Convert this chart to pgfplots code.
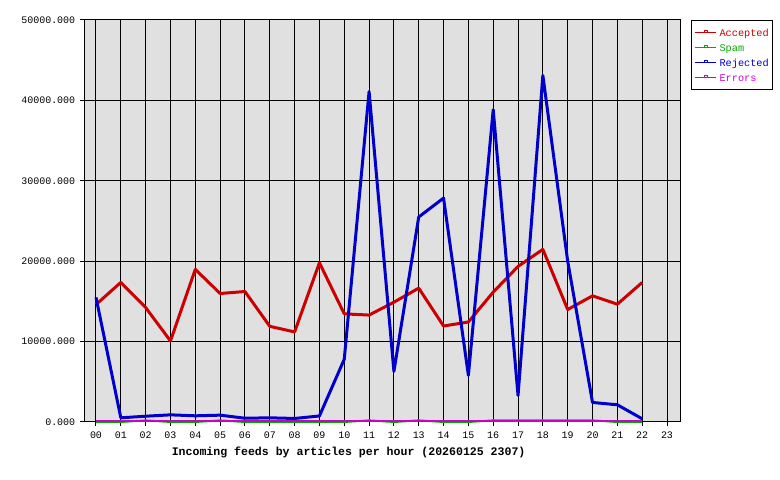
\documentclass[border=0pt]{standalone}
\usepackage{fontspec}
\setmainfont{Liberation Mono}
\usepackage{pgfplots}
\pgfplotsset{compat=1.18}
\definecolor{bg}{HTML}{E0E0E0}
\definecolor{acc}{HTML}{CC0000}
\definecolor{spm}{HTML}{00AA00}
\definecolor{rej}{HTML}{0000CC}
\definecolor{err}{HTML}{CC00CC}
\begin{document}
\begin{tikzpicture}
\useasboundingbox (0,0) rectangle (780bp,480bp);
\begin{axis}[
  at={(84bp,58bp)}, anchor=south west,
  scale only axis, width=596bp, height=402bp,
  xmin=-0.483, xmax=23.524, ymin=0, ymax=50000,
  scaled y ticks=false,
  axis background/.style={fill=bg},
  clip=false,
  axis line style={black, line width=1bp},
  grid=major,
  major grid style={black, line width=1bp},
  tick style={black, line width=1bp},
  major tick length=4bp,
  tick align=outside,
  xtick pos=bottom, ytick pos=left,
  xtick={0,...,23},
  xticklabels={00,01,02,03,04,05,06,07,08,09,10,11,12,13,14,15,16,17,18,19,20,21,22,23},
  ytick={0,10000,20000,30000,40000,50000},
  yticklabels={0.000,10000.000,20000.000,30000.000,40000.000,50000.000},
  ticklabel style={font=\fontsize{10}{12}\selectfont},
  yticklabel style={xshift=-1.3bp},
  xticklabel style={yshift=-2.2bp},
  xlabel={\bfseries Incoming feeds by articles per hour (20260125 2307)},
  xlabel style={at={(axis description cs:0.444,0)}, anchor=base, yshift=-34bp, font=\fontsize{11.6}{14}\selectfont},
  legend style={at={(1.018,1)}, anchor=north west, draw=black, line width=1bp, fill=white,
    font=\fontsize{10.3}{12}\selectfont, inner xsep=3.3bp, inner ysep=6bp, row sep=3bp,
    nodes={inner sep=0pt, text height=10bp, text depth=2bp}},
  legend cell align=left,
  legend image code/.code={
    \draw[#1, line width=1bp] (0bp,0bp) -- (21bp,0bp);
    \draw[#1, line width=0.8bp, fill=none] (9.5bp,-0.2bp) rectangle (12.5bp,1.6bp);
  },
]
\addplot[acc, line width=3bp, line join=round] coordinates {
(0,14610) (1,17360) (2,14240) (3,10080) (4,18980) (5,15980) (6,16230) (7,11900)
(8,11200) (9,19800) (10,13450) (11,13300) (12,14900) (13,16650) (14,11940) (15,12440)
(16,16150) (17,19350) (18,21470) (19,13990) (20,15690) (21,14650) (22,17360)};
\addlegendentry{\hspace{3bp}\textcolor{acc}{Accepted}}
\addplot[spm, line width=2bp] coordinates {
(0,0) (1,0) (2,200) (3,0) (4,0) (5,200) (6,0) (7,0) (8,0) (9,0) (10,0) (11,200)
(12,0) (13,200) (14,0) (15,0) (16,200) (17,200) (18,200) (19,200) (20,200) (21,0) (22,0)};
\addlegendentry{\hspace{3bp}\textcolor{spm}{Spam}}
\addplot[rej, line width=3bp, line join=round] coordinates {
(0,15500) (1,520) (2,720) (3,890) (4,770) (5,850) (6,470) (7,520) (8,440) (9,750)
(10,7800) (11,41100) (12,6300) (13,25500) (14,27850) (15,5800) (16,38850) (17,3300)
(18,43100) (19,20000) (20,2430) (21,2140) (22,400)};
\addlegendentry{\hspace{3bp}\textcolor{rej}{Rejected}}
\addplot[err, line width=2bp] coordinates {
(0,100) (1,100) (2,100) (3,100) (4,100) (5,100) (6,100) (7,100) (8,100) (9,100) (10,100) (11,100)
(12,100) (13,100) (14,100) (15,100) (16,100) (17,100) (18,100) (19,100) (20,100) (21,100) (22,100)};
\addlegendentry{\hspace{3bp}\textcolor{err}{Errors}}
\end{axis}
\end{tikzpicture}
\end{document}
